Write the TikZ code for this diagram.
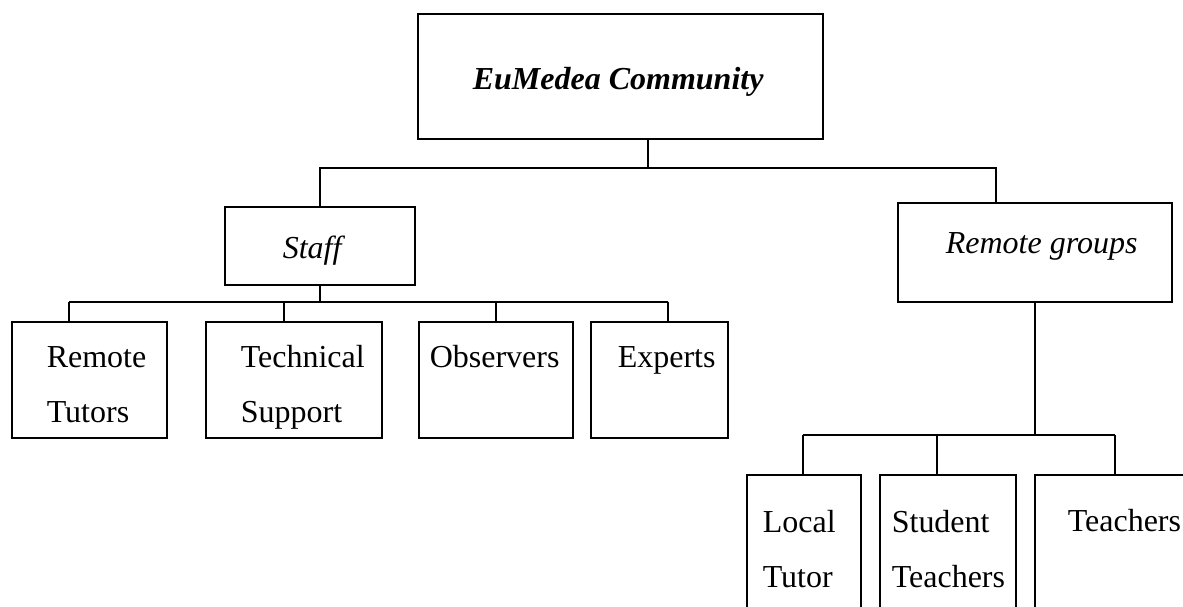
\documentclass[tikz,border=0pt]{standalone}
\usepackage{fontspec}
\setmainfont{Liberation Serif}
\tikzset{
	x=1pt, y=-1pt, % one unit is one pixel of the scan, y runs downwards
	box/.style={draw, rectangle, inner sep=0pt}, % the empty frames
	boxtext/.style={inner sep=0pt, anchor=base west, align=left, font=\fontsize{32}{55}\selectfont}, % text inside a frame, anchored at its last line
}
\begin{document}
\begin{tikzpicture}[line width=1.6pt]
	\useasboundingbox (0,0) rectangle (1183,607);
	% frames
	\node[box, minimum width=405, minimum height=125] at (620.5,76.5) (community) {};
	\node[box, minimum width=190, minimum height=78] at (320,246) (staff) {};
	\node[box, minimum width=274, minimum height=99] at (1035,252.5) (groups) {};
	\node[box, minimum width=155, minimum height=116] at (89.5,380) (rtutors) {};
	\node[box, minimum width=176, minimum height=116] at (294,380) (support) {};
	\node[box, minimum width=154, minimum height=116] at (496,380) (observers) {};
	\node[box, minimum width=137, minimum height=116] at (659.5,380) (experts) {};
	\node[box, minimum width=114, minimum height=166] at (804,558) (ltutor) {};
	\node[box, minimum width=136, minimum height=166] at (948,558) (students) {};
	\node[box, minimum width=175, minimum height=166] at (1122.5,558) (teachers) {};
	% texts
	\node[boxtext, font=\fontsize{32}{55}\selectfont\bfseries\itshape] at (472,90) (communitytext) {EuMedea Community};
	\node[boxtext, font=\fontsize{32}{55}\selectfont\itshape] at (282,258) (stafftext) {Staff};
	\node[boxtext, font=\fontsize{32}{55}\selectfont\itshape] at (945,253) (groupstext) {Remote groups};
	\node[boxtext] at (46,422) (rtutorstext) {Remote\\Tutors};
	\node[boxtext] at (240,422) (supporttext) {Technical\\Support};
	\node[boxtext] at (429,367) (observerstext) {Observers};
	\node[boxtext] at (617,367) (expertstext) {Experts};
	\node[boxtext] at (762,587) (ltutortext) {Local\\Tutor};
	\node[boxtext] at (891,587) (studentstext) {Student\\Teachers};
	\node[boxtext] at (1067,531) (teacherstext) {Teachers};
	% connectors
	\coordinate (topdrop) at (648,168);
	\coordinate (groupsdrop) at (996,168);
	\draw (topdrop |- community.south) -- (topdrop);
	\draw (staff.north) |- (groupsdrop) -- (groupsdrop |- groups.north);
	\coordinate (busA) at (69,302);
	\coordinate (busB) at (284,302);
	\coordinate (busC) at (496,302);
	\coordinate (busD) at (668,302);
	\draw (staff.south) -- (staff.south |- busA);
	\draw (busA) -- (busD);
	\foreach \drop/\child in {busA/rtutors, busB/support, busC/observers, busD/experts}
		\draw (\drop) -- (\drop |- \child.north);
	\coordinate (busE) at (803,435);
	\coordinate (busF) at (937,435);
	\coordinate (busG) at (1115,435);
	\draw (groups.south) -- (groups.south |- busE);
	\draw (busE) -- (busG);
	\foreach \drop/\child in {busE/ltutor, busF/students, busG/teachers}
		\draw (\drop) -- (\drop |- \child.north);
\end{tikzpicture}
\end{document}
